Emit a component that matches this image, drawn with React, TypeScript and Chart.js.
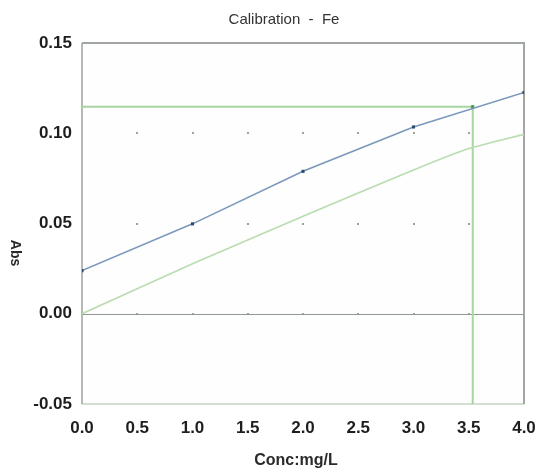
import React, { useEffect, useRef } from "react";
import { Chart, registerables } from "chart.js";

Chart.register(...registerables);

// Calibration standards (concentration, mg/L) and measured absorbance
const standardConc = [0, 1, 2, 3, 4];
const standardAbs = [0.0239, 0.0498, 0.0789, 0.1035, 0.1226];

// Reference calibration curve
const curveConc = [0, 1, 2, 3, 3.5, 4];
const curveAbs = [0, 0.0277, 0.054, 0.0796, 0.0915, 0.0994];

// Sample read-off: absorbance and the concentration it maps to
const sampleAbs = 0.1147;
const sampleConc = 3.536;

const xTicks = [0, 0.5, 1, 1.5, 2, 2.5, 3, 3.5, 4];
const yTicks = [-0.05, 0, 0.05, 0.1, 0.15];

const TICK_FONT = { family: "'Liberation Sans', Arial, sans-serif", size: 17, weight: "bold" as const };

const framePlugin = {
  id: "calFrame",
  beforeDatasetsDraw(chart: any) {
    const { ctx, chartArea, scales } = chart;
    const { left, right, top, bottom } = chartArea;
    const x = scales.x;
    const y = scales.y;
    ctx.save();
    ctx.fillStyle = "#fdfefd";
    ctx.fillRect(left, top, right - left, bottom - top);

    // grid dots at tick intersections
    ctx.fillStyle = "#9aa29a";
    for (const xv of xTicks) {
      if (xv === 0 || xv === 4) continue;
      for (const yv of yTicks) {
        const px = x.getPixelForValue(xv);
        const py = y.getPixelForValue(yv);
        ctx.fillRect(Math.round(px) - 1, Math.round(py) - 1, 2, 2);
      }
    }

    // zero line
    const y0 = Math.round(y.getPixelForValue(0)) + 0.5;
    ctx.strokeStyle = "#8e9a8e";
    ctx.lineWidth = 1;
    ctx.beginPath();
    ctx.moveTo(left, y0);
    ctx.lineTo(right, y0);
    ctx.stroke();

    // bottom border (light)
    ctx.strokeStyle = "#d2dfd2";
    ctx.lineWidth = 2;
    ctx.beginPath();
    ctx.moveTo(left, bottom);
    ctx.lineTo(right, bottom);
    ctx.stroke();

    // top and right border
    ctx.strokeStyle = "#a2a6a2";
    ctx.lineWidth = 2;
    ctx.beginPath();
    ctx.moveTo(left, top);
    ctx.lineTo(right, top);
    ctx.lineTo(right, bottom);
    ctx.stroke();

    // left axis
    ctx.strokeStyle = "#9aa49a";
    ctx.lineWidth = 1.5;
    ctx.beginPath();
    ctx.moveTo(left, top);
    ctx.lineTo(left, bottom);
    ctx.stroke();
    ctx.restore();
  },
  afterDraw(chart: any) {
    const { ctx } = chart;
    ctx.save();
    ctx.fillStyle = "#333";
    ctx.textAlign = "center";
    ctx.textBaseline = "middle";
    ctx.font = "15px 'Liberation Sans', Arial, sans-serif";
    ctx.fillText("Calibration  -  Fe", 284, 20);

    ctx.font = "bold 16px 'Liberation Sans', Arial, sans-serif";
    ctx.fillStyle = "#2a2a2a";
    ctx.fillText("Conc:mg/L", 296, 461);

    ctx.translate(15, 253);
    ctx.rotate(Math.PI / 2);
    ctx.font = "bold 14px 'Liberation Sans', Arial, sans-serif";
    ctx.fillText("Abs", 0, 0);
    ctx.restore();
  },
};

export default function App() {
  const canvasRef = useRef<HTMLCanvasElement | null>(null);

  useEffect(() => {
    if (!canvasRef.current) return;
    const chart = new Chart(canvasRef.current, {
      type: "line",
      data: {
        datasets: [
          {
            label: "Standards",
            data: standardConc.map((c, i) => ({ x: c, y: standardAbs[i] })),
            borderColor: "#7b98bc",
            borderWidth: 1.6,
            pointStyle: "rect",
            pointRadius: 2.2,
            pointBackgroundColor: "#2f4a72",
            pointBorderColor: "#2f4a72",
            pointBorderWidth: 0,
            tension: 0,
          },
          {
            label: "Curve",
            data: curveConc.map((c, i) => ({ x: c, y: curveAbs[i] })),
            borderColor: "#b9dcb1",
            borderWidth: 1.6,
            pointRadius: 0,
            tension: 0.2,
          },
          {
            label: "Sample",
            data: [
              { x: 0, y: sampleAbs },
              { x: sampleConc, y: sampleAbs },
              { x: sampleConc, y: -0.05 },
            ],
            borderColor: "#a6d6a0",
            borderWidth: 2,
            pointStyle: "rect",
            pointRadius: [0, 2.2, 0],
            pointBackgroundColor: "#3d9a3d",
            pointBorderColor: "#3d9a3d",
            pointBorderWidth: 0,
            tension: 0,
          },
        ],
      },
      options: {
        animation: false,
        responsive: false,
        parsing: false as any,
        plugins: {
          legend: { display: false },
          title: { display: false },
          tooltip: { enabled: false },
        },
        layout: { padding: { top: 43, right: 0, left: 0, bottom: 0 } },
        scales: {
          x: {
            type: "linear",
            min: 0,
            max: 4,
            afterFit: (s: any) => {
              s.height = 68;
              s.paddingRight = 13;
            },
            afterBuildTicks: (s: any) => {
              s.ticks = xTicks.map((v) => ({ value: v }));
            },
            grid: { display: false, drawTicks: false },
            border: { display: false },
            ticks: {
              padding: 14,
              color: "#1e1e1e",
              font: TICK_FONT,
              maxRotation: 0,
              callback: (v: any) => Number(v).toFixed(1),
            },
          },
          y: {
            type: "linear",
            min: -0.05,
            max: 0.15,
            afterFit: (s: any) => {
              s.width = 82;
            },
            afterBuildTicks: (s: any) => {
              s.ticks = yTicks.map((v) => ({ value: v }));
            },
            grid: { display: false, drawTicks: false },
            border: { display: false },
            ticks: {
              padding: 10,
              color: "#1e1e1e",
              font: TICK_FONT,
              callback: (v: any) => Number(v).toFixed(2),
            },
          },
        },
      },
      plugins: [framePlugin],
    });
    return () => chart.destroy();
  }, []);

  return (
    <div style={{ position: "fixed", left: 0, top: 0, width: 537, height: 472, background: "#fff" }}>
      <canvas ref={canvasRef} width={537} height={472} style={{ display: "block" }} />
    </div>
  );
}
